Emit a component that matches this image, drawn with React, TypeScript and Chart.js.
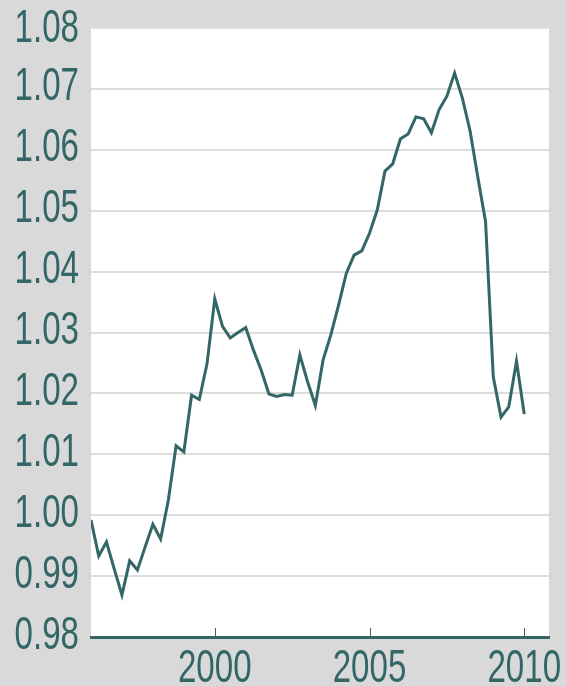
import React, { useEffect, useRef } from "react";
import { Chart, registerables } from "chart.js";

Chart.register(...registerables);

const quarters = [
  "1996Q1", "1996Q2", "1996Q3", "1996Q4",
  "1997Q1", "1997Q2", "1997Q3", "1997Q4",
  "1998Q1", "1998Q2", "1998Q3", "1998Q4",
  "1999Q1", "1999Q2", "1999Q3", "1999Q4",
  "2000Q1", "2000Q2", "2000Q3", "2000Q4",
  "2001Q1", "2001Q2", "2001Q3", "2001Q4",
  "2002Q1", "2002Q2", "2002Q3", "2002Q4",
  "2003Q1", "2003Q2", "2003Q3", "2003Q4",
  "2004Q1", "2004Q2", "2004Q3", "2004Q4",
  "2005Q1", "2005Q2", "2005Q3", "2005Q4",
  "2006Q1", "2006Q2", "2006Q3", "2006Q4",
  "2007Q1", "2007Q2", "2007Q3", "2007Q4",
  "2008Q1", "2008Q2", "2008Q3", "2008Q4",
  "2009Q1", "2009Q2", "2009Q3", "2009Q4",
  "2010Q1",
];

const ratio = [
  0.9992, 0.9933, 0.9956, 0.9912, 0.9869, 0.9925, 0.991, 0.9948, 0.9985, 0.9961,
  1.0025, 1.0114, 1.0104, 1.0197, 1.019, 1.0249, 1.0355, 1.031, 1.0291, 1.03,
  1.0308, 1.0271, 1.0238, 1.0199, 1.0195, 1.0198, 1.0197, 1.0263, 1.0219, 1.018,
  1.0255, 1.0296, 1.0345, 1.0397, 1.0427, 1.0434, 1.0463, 1.0501, 1.0565, 1.0577,
  1.0618, 1.0626, 1.0654, 1.0651, 1.0628, 1.0666, 1.0688, 1.0726, 1.0685, 1.0631,
  1.0555, 1.0482, 1.0227, 1.0161, 1.0178, 1.0253, 1.0166,
];

const xTickYears = [2000, 2005, 2010];
const xMin = 1996;
const xMax = 2010.8;
const yMin = 0.98;
const yMax = 1.08;
const yStep = 0.01;

const TEAL = "#336666";
const BG = "#d9d9d9";
const GRID = "#dddddd";
const FONT = '"Liberation Sans", Arial, sans-serif';
const FONT_SIZE = 46;
const SQUEEZE = 0.72;

const toYear = (q: string) => parseInt(q.slice(0, 4), 10) + (parseInt(q.slice(5), 10) - 1) / 4;

const drawSqueezed = (ctx: any, text: string, x: number, y: number, align: string) => {
  ctx.save();
  ctx.translate(x, y);
  ctx.scale(SQUEEZE, 1);
  ctx.textAlign = align;
  ctx.textBaseline = "alphabetic";
  ctx.fillText(text, 0, 0);
  ctx.restore();
};

const chartPlugin = {
  id: "chartPlugin",
  beforeDraw(chart: any) {
    const { ctx, chartArea, width, height } = chart;
    ctx.save();
    ctx.fillStyle = BG;
    ctx.fillRect(0, 0, width, height);
    ctx.fillStyle = "#ffffff";
    ctx.fillRect(chartArea.left, chartArea.top, chartArea.right - chartArea.left, chartArea.bottom - chartArea.top);
    ctx.restore();
  },
  afterDraw(chart: any) {
    const { ctx, chartArea } = chart;
    const xs = chart.scales.x;
    const ys = chart.scales.y;
    ctx.save();
    // inner tick marks on the x axis
    ctx.strokeStyle = TEAL;
    ctx.lineWidth = 1;
    xs.ticks.forEach((t: any) => {
      const px = Math.round(xs.getPixelForValue(t.value)) + 0.5;
      ctx.beginPath();
      ctx.moveTo(px, chartArea.bottom);
      ctx.lineTo(px, chartArea.bottom - 9);
      ctx.stroke();
    });
    // tick labels
    ctx.fillStyle = TEAL;
    ctx.font = `${FONT_SIZE}px ${FONT}`;
    xs.ticks.forEach((t: any) => {
      const px = xs.getPixelForValue(t.value);
      drawSqueezed(ctx, String(t.value), px, chartArea.bottom + 45, "center");
    });
    ys.ticks.forEach((t: any) => {
      const py = ys.getPixelForValue(t.value);
      const base = Math.max(py + 11.5, 42);
      drawSqueezed(ctx, Number(t.value).toFixed(2), chartArea.left - 12, base, "right");
    });
    ctx.restore();
  },
};

export default function App() {
  const ref = useRef<HTMLCanvasElement | null>(null);

  useEffect(() => {
    if (!ref.current) return;
    const chart = new Chart(ref.current, {
      type: "line",
      data: {
        datasets: [
          {
            data: quarters.map((q, i) => ({ x: toYear(q), y: ratio[i] })),
            borderColor: TEAL,
            borderWidth: 3,
            pointRadius: 0,
            tension: 0,
            fill: false,
          },
        ],
      },
      options: {
        animation: false,
        responsive: false,
        maintainAspectRatio: false,
        layout: { padding: { left: 0, right: 17, top: 28, bottom: 0 } },
        plugins: {
          legend: { display: false },
          tooltip: { enabled: false },
          title: { display: false },
        },
        scales: {
          x: {
            type: "linear",
            min: xMin,
            max: xMax,
            afterBuildTicks: (scale: any) => {
              scale.ticks = xTickYears.map((v) => ({ value: v }));
            },
            afterFit: (scale: any) => {
              scale.height = 49;
            },
            grid: { display: false, drawTicks: false },
            border: { display: true, color: TEAL, width: 3 },
            ticks: { display: false },
          },
          y: {
            min: yMin,
            max: yMax,
            afterFit: (scale: any) => {
              scale.width = 91;
            },
            grid: { color: GRID, lineWidth: 2, drawTicks: false },
            border: { display: false },
            ticks: { display: false, stepSize: yStep },
          },
        },
      },
      plugins: [chartPlugin],
    } as any);
    return () => chart.destroy();
  }, []);

  return (
    <div style={{ position: "fixed", left: 0, top: 0, width: 566, height: 686, background: BG }}>
      <canvas ref={ref} width={566} height={686} style={{ width: 566, height: 686, display: "block" }} />
    </div>
  );
}
